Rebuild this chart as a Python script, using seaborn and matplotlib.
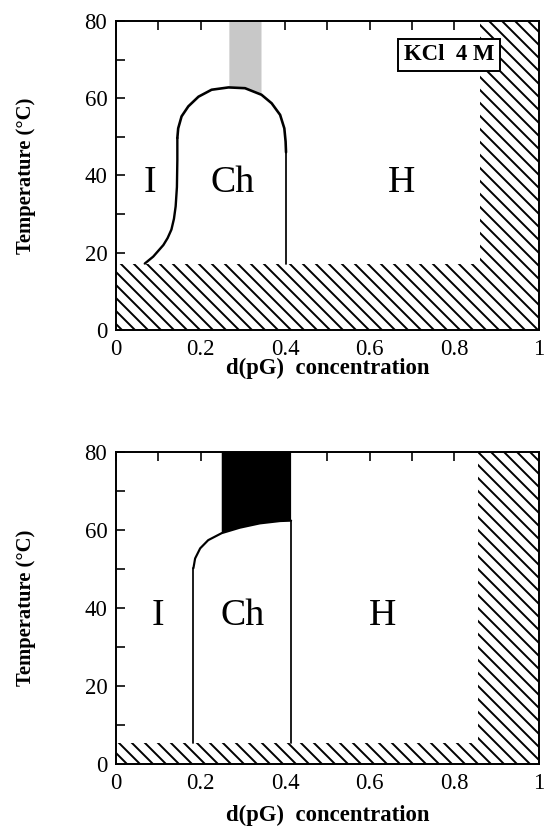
import numpy as np
import matplotlib
matplotlib.use("Agg")
import matplotlib.pyplot as plt
import seaborn as sns

# ---- phase diagram data: d(pG) concentration vs temperature (°C) ----
# KCl 4 M (upper panel)
top_left_x = [0.068, 0.088, 0.112, 0.122, 0.131, 0.137, 0.141, 0.144, 0.145, 0.145]
top_left_t = [17.2, 19.0, 22.0, 23.8, 26.0, 28.8, 32.0, 37.0, 44.0, 49.7]
top_dome_x = [0.145, 0.147, 0.155, 0.171, 0.195, 0.226, 0.266, 0.305,
              0.344, 0.368, 0.388, 0.398, 0.401, 0.402]
top_dome_t = [49.7, 52.2, 55.3, 57.9, 60.4, 62.2, 62.8, 62.6,
              60.9, 58.7, 55.7, 52.2, 48.8, 46.0]
top_right_x = [0.402, 0.402]
top_right_t = [46.0, 17.0]
top_grey_x = [0.268, 0.344]          # shaded column above the Ch dome
top_floor = 17.0                      # hatched zone below this temperature
top_wall = 0.86                       # hatched zone above this concentration

# lower panel
bot_left_x = [0.183, 0.183]
bot_left_t = [5.5, 50.2]
bot_dome_x = [0.183, 0.187, 0.199, 0.218, 0.250, 0.293, 0.340, 0.388, 0.414]
bot_dome_t = [50.2, 52.7, 55.3, 57.4, 59.2, 60.6, 61.7, 62.3, 62.4]
bot_right_x = [0.414, 0.414]
bot_right_t = [62.4, 5.5]
bot_black_x = [0.250, 0.414]         # black column above the Ch boundary
bot_floor = 5.5
bot_wall = 0.855

phase_labels = ["I", "Ch", "H"]
top_label_x = [0.08, 0.275, 0.675]
bot_label_x = [0.10, 0.30, 0.63]
label_t = 38.0

x_ticks = [0, 0.2, 0.4, 0.6, 0.8, 1]
x_ticklabels = ["0", "0.2", "0.4", "0.6", "0.8", "1"]
y_ticks = [0, 20, 40, 60, 80]

sns.set_theme(style="ticks")
plt.rcParams["font.family"] = ["Liberation Serif", "DejaVu Serif"]
plt.rcParams["hatch.linewidth"] = 1.8
plt.rcParams["hatch.color"] = "black"
plt.rcParams["text.color"] = "black"
plt.rcParams["axes.labelcolor"] = "black"
plt.rcParams["xtick.color"] = "black"
plt.rcParams["ytick.color"] = "black"

DPI = 78
fig = plt.figure(figsize=(546 / DPI, 826 / DPI), dpi=DPI)
ax_top = fig.add_axes([0.2125, 0.6005, 0.7745, 0.3741])
ax_bot = fig.add_axes([0.2125, 0.0750, 0.7745, 0.3778])


def hatched(ax, floor, wall):
    ax.fill_between([0, 1], 0, floor, facecolor="white", edgecolor="black",
                    hatch="\\\\", linewidth=0, zorder=1)
    ax.fill_between([wall, 1], 0, 80, facecolor="white", edgecolor="black",
                    hatch="\\\\", linewidth=0, zorder=1)


def boundary(ax, xs, ts, lw):
    sns.lineplot(x=xs, y=ts, sort=False, estimator=None, color="black",
                 linewidth=lw, ax=ax, zorder=3)


def style(ax, xlabel_y):
    ax.set_xlim(0, 1)
    ax.set_ylim(0, 80)
    ax.set_xticks(x_ticks)
    ax.set_xticklabels(x_ticklabels)
    ax.set_yticks(y_ticks)
    ax.set_xticks(np.arange(0.1, 1.0, 0.2), minor=True)
    ax.set_yticks(np.arange(10, 80, 20), minor=True)
    ax.tick_params(which="both", direction="in", top=True, right=True,
                   length=8, width=1.5, color="black")
    ax.tick_params(which="major", labelsize=21, pad=8, labelcolor="black")
    for s in ax.spines.values():
        s.set_linewidth(1.8)
        s.set_color("black")
        s.set_zorder(5)
    ax.set_xlabel("d(pG)  concentration", fontsize=21, fontweight="bold")
    ax.set_ylabel("Temperature (°C)", fontsize=19, fontweight="bold")
    ax.xaxis.set_label_coords(0.5, xlabel_y)
    ax.yaxis.set_label_coords(-0.19, 0.5)
    ax.set_facecolor("white")


# upper panel
ax = ax_top
hatched(ax, top_floor, top_wall)
gx = np.linspace(top_grey_x[0], top_grey_x[1], 50)
ax.fill_between(gx, np.interp(gx, top_dome_x, top_dome_t), 80,
                facecolor="#c8c8c8", edgecolor="none", zorder=2)
boundary(ax, top_left_x, top_left_t, 2.2)
boundary(ax, top_dome_x, top_dome_t, 2.4)
boundary(ax, top_right_x, top_right_t, 1.6)
for lab, x in zip(phase_labels, top_label_x):
    ax.text(x, label_t, lab, fontsize=35, ha="center", va="center", zorder=4)
ax.text(0.787, 71.2, "KCl  4 M", fontsize=21, fontweight="bold",
        ha="center", va="center", zorder=6,
        bbox=dict(boxstyle="square,pad=0.25", facecolor="white",
                  edgecolor="black", linewidth=1.8))
style(ax, -0.09)

# lower panel
ax = ax_bot
hatched(ax, bot_floor, bot_wall)
bx = np.linspace(bot_black_x[0], bot_black_x[1], 50)
ax.fill_between(bx, np.interp(bx, bot_dome_x, bot_dome_t), 80,
                facecolor="black", edgecolor="none", zorder=2)
boundary(ax, bot_left_x, bot_left_t, 1.6)
boundary(ax, bot_dome_x, bot_dome_t, 2.0)
boundary(ax, bot_right_x, bot_right_t, 1.6)
for lab, x in zip(phase_labels, bot_label_x):
    ax.text(x, label_t, lab, fontsize=35, ha="center", va="center", zorder=4)
style(ax, -0.13)

fig.savefig("out.png", dpi=DPI)
